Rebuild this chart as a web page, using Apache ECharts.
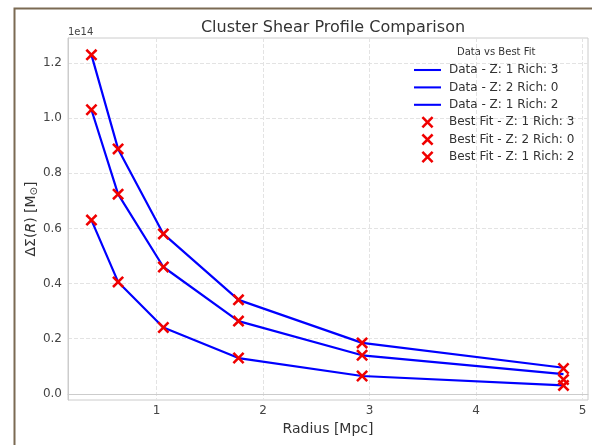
<!DOCTYPE html>
<html>
<head>
<meta charset="utf-8">
<script src="https://cdn.jsdelivr.net/npm/echarts@6/dist/echarts.min.js"></script>
<style>html,body{margin:0;padding:0;background:#fff}#c{width:592px;height:445px}</style>
</head>
<body>
<div id="c"></div>
<script>
// Radius [Mpc]
const radius = [0.39, 0.64, 1.065, 1.77, 2.93, 4.82];
// Delta Sigma in units of 1e14 M_sun
const dataZ1R3 = [1.229, 0.888, 0.580, 0.341, 0.185, 0.095];
const dataZ2R0 = [1.030, 0.724, 0.460, 0.264, 0.140, 0.072];
const dataZ1R2 = [0.630, 0.406, 0.241, 0.130, 0.065, 0.031];
const fitZ1R3 = [1.229, 0.888, 0.580, 0.341, 0.185, 0.092];
const fitZ2R0 = [1.030, 0.724, 0.460, 0.264, 0.140, 0.052];
const fitZ1R2 = [0.630, 0.406, 0.241, 0.130, 0.065, 0.031];
const xTicks = [1, 2, 3, 4, 5];
const yTicks = [0, 0.2, 0.4, 0.6, 0.8, 1.0, 1.2];
const dataNames = ['Data - Z: 1 Rich: 3', 'Data - Z: 2 Rich: 0', 'Data - Z: 1 Rich: 2'];
const fitNames = ['Best Fit - Z: 1 Rich: 3', 'Best Fit - Z: 2 Rich: 0', 'Best Fit - Z: 1 Rich: 2'];

const pair = (ys) => radius.map((x, i) => [x, ys[i]]);
const xMark = 'path://M0,1.5 L1.5,0 L5,3.5 L8.5,0 L10,1.5 L6.5,5 L10,8.5 L8.5,10 L5,6.5 L1.5,10 L0,8.5 L3.5,5 Z';
const lineIcon = 'path://M0,0 H30 V2.3 H0 Z';

const lineSeries = [dataZ1R3, dataZ2R0, dataZ1R2].map((d, i) => ({
  name: dataNames[i], type: 'line', data: pair(d), symbol: 'none',
  lineStyle: { color: '#0000ff', width: 2.2 }, itemStyle: { color: '#0000ff' }, z: 2
}));
const fitSeries = [fitZ1R3, fitZ2R0, fitZ1R2].map((d, i) => ({
  name: fitNames[i], type: 'scatter', data: pair(d), symbol: xMark, symbolSize: 12,
  itemStyle: { color: '#f00000', opacity: 1 }, z: 3
}));

const chart = echarts.init(document.getElementById('c'), null, { renderer: 'canvas' });
chart.setOption({
  animation: false,
  backgroundColor: '#fff',
  title: {
    text: 'Cluster Shear Profile Comparison', left: 328, top: 15, textAlign: 'center',
    textStyle: { fontFamily: 'DejaVu Sans', fontSize: 16, fontWeight: 'normal', color: '#333' }
  },
  graphic: [
    { type: 'rect', left: 12, top: 6, shape: { width: 640, height: 500 },
      style: { fill: 'none', stroke: '#7b6a53', lineWidth: 2 }, silent: true },
    { type: 'text', left: 68, top: 27, style: { text: '1e14', font: '10px DejaVu Sans', fill: '#444' } },
    { type: 'text', left: 457, top: 47, style: { text: 'Data vs Best Fit', font: '10px DejaVu Sans', fill: '#333' } }
  ],
  legend: {
    orient: 'vertical', left: 409, top: 59, itemWidth: 27, itemHeight: 12, itemGap: 5.4,
    data: dataNames.map(n => ({ name: n, icon: lineIcon })).concat(fitNames.map(n => ({ name: n, icon: xMark }))),
    textStyle: { fontFamily: 'DejaVu Sans', fontSize: 12, color: '#333', padding: [0, 0, 0, 3] }
  },
  grid: { left: 68, right: 4, top: 38, bottom: 45, show: true, borderColor: '#cccccc', borderWidth: 1 },
  xAxis: {
    type: 'value', min: 0.17, max: 5.05,
    name: 'Radius [Mpc]', nameLocation: 'middle', nameGap: 22, nameMoveOverlap: false,
    nameTextStyle: { fontFamily: 'DejaVu Sans', fontSize: 14, color: '#333' },
    axisLine: { show: true, lineStyle: { color: '#cccccc' } },
    axisTick: { show: false, customValues: xTicks },
    axisLabel: { customValues: xTicks, margin: 5, fontFamily: 'DejaVu Sans', fontSize: 12, color: '#444' },
    splitLine: { show: true, lineStyle: { color: '#e3e3e3', type: [4, 2] } }
  },
  yAxis: {
    type: 'value', min: -0.022, max: 1.29,
    name: '{n|ΔΣ(}{i|R}{n|) [M}{s|⊙}{n|]}', nameLocation: 'middle', nameGap: 29, nameMoveOverlap: false,
    nameTextStyle: {
      fontFamily: 'DejaVu Sans', fontSize: 14, color: '#333',
      rich: {
        n: { fontFamily: 'DejaVu Sans', fontSize: 14, color: '#333' },
        i: { fontFamily: 'DejaVu Sans', fontSize: 14, fontStyle: 'italic', color: '#333' },
        s: { fontFamily: 'DejaVu Sans', fontSize: 10, color: '#333', verticalAlign: 'bottom', padding: [6, 0, 0, 0] }
      }
    },
    axisLine: { show: true, lineStyle: { color: '#cccccc' } },
    axisTick: { show: false, customValues: yTicks },
    axisLabel: { customValues: yTicks, margin: 6, fontFamily: 'DejaVu Sans', fontSize: 12, color: '#444',
      formatter: (v) => v.toFixed(1) },
    splitLine: { show: true, lineStyle: { color: '#e3e3e3', type: [4, 2] } }
  },
  series: lineSeries.concat(fitSeries)
});
</script>
</body>
</html>
